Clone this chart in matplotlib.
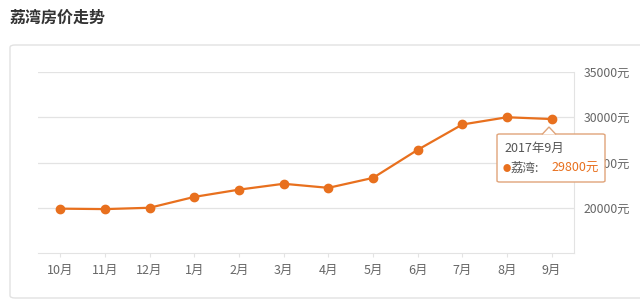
import matplotlib.pyplot as plt
from matplotlib.patches import FancyBboxPatch, Polygon

plt.rcParams['font.family'] = ['Noto Sans CJK SC', 'DejaVu Sans']

# data
months = ['10月', '11月', '12月', '1月', '2月', '3月', '4月', '5月', '6月', '7月', '8月', '9月']
prices = [19900, 19850, 20000, 21200, 22000, 22650, 22200, 23300, 26400, 29200, 30000, 29800]
yticks = [20000, 25000, 30000, 35000]

orange = '#e8701e'
grid = '#e3e3e3'
txt = '#666666'

fig = plt.figure(figsize=(6.4, 3.06), dpi=100)
W, H = 640, 306

def fx(px):
    return px / W

def fy(py):
    return 1 - py / H

## card behind the chart
card = FancyBboxPatch((fx(10), fy(298)), fx(700), fy(45) - fy(298),
                      boxstyle='round,pad=0,rounding_size=0.008',
                      transform=fig.transFigure, facecolor='white',
                      edgecolor='#e2e2e2', linewidth=1, zorder=0)
fig.add_artist(card)

fig.text(fx(10), fy(18), '荔湾房价走势', fontsize=11.5, fontweight='bold',
         color='#333333', va='center', ha='left')

ax = fig.add_axes([fx(38), fy(253), fx(574) - fx(38), fy(72) - fy(253)])
ax.set_facecolor('none')
x = list(range(len(months)))
ax.plot(x, prices, color=orange, linewidth=1.6, marker='o', markersize=6,
        markerfacecolor=orange, markeredgecolor=orange, zorder=3)

ax.set_xlim(-0.5, len(months) - 0.5)
ax.set_ylim(15000, 35000)
ax.set_xticks(x)
ax.set_xticklabels(months)
ax.set_yticks(yticks)
ax.set_yticklabels([f'{v}元' for v in yticks])
ax.yaxis.tick_right()
ax.tick_params(axis='y', length=0, pad=7, labelsize=8.8, labelcolor=txt)
ax.tick_params(axis='x', length=3, color=grid, pad=5, labelsize=9, labelcolor=txt)
ax.grid(axis='y', color=grid, linewidth=0.9)
ax.set_axisbelow(True)
for s in ['top', 'left']:
    ax.spines[s].set_visible(False)
ax.spines['right'].set_color(grid)
ax.spines['bottom'].set_color(grid)

## tooltip for the last point
tip = FancyBboxPatch((fx(497), fy(182)), fx(108), fy(134) - fy(182),
                     boxstyle='round,pad=0,rounding_size=0.004',
                     transform=fig.transFigure, facecolor='white',
                     edgecolor='#e0a47a', linewidth=1, zorder=10)
fig.add_artist(tip)
arrow = Polygon([(fx(542), fy(134.5)), (fx(549), fy(127)), (fx(556), fy(134.5))],
                closed=False, transform=fig.transFigure, facecolor='white',
                edgecolor='#e0a47a', linewidth=1, zorder=11)
fig.add_artist(arrow)
fig.text(fx(504), fy(148), '2017年9月', fontsize=9, color='#555555',
         va='center', ha='left', zorder=12)
fig.text(fx(503), fy(168), '●', fontsize=6, color=orange, va='center',
         ha='left', zorder=12)
fig.text(fx(511), fy(168), '荔湾:', fontsize=9, color='#555555',
         va='center', ha='left', zorder=12)
fig.text(fx(551), fy(168), '29800元', fontsize=9, color=orange,
         va='center', ha='left', zorder=12)

fig.savefig('out.png', dpi=100)
